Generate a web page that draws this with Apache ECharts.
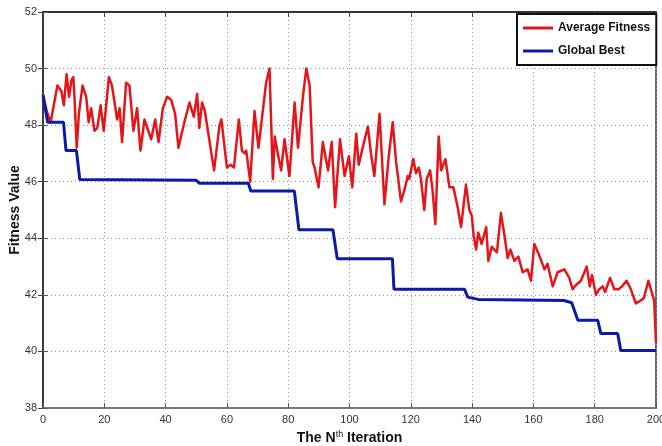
<!DOCTYPE html>
<html>
<head>
<meta charset="utf-8">
<script src="https://cdn.jsdelivr.net/npm/echarts@6/dist/echarts.min.js"></script>
<style>
html,body{margin:0;padding:0;background:#fff;}
#main{width:662px;height:446px;}
</style>
</head>
<body>
<div id="main"></div>
<script>
// Average Fitness (iteration, value)
var avgX = [0,1.2,2.5,4.7,6,6.8,7.7,8.5,9.3,9.9,10.3,11,11.7,12.9,14.1,14.9,15.7,16.8,17.7,18.8,19.8,21.5,22.5,24.2,25,25.8,27.1,28.2,29.5,30.7,31.8,33.1,35.3,36.6,37.7,39.1,40.5,41.8,43.1,44.2,46.1,47.8,49.2,50.3,51,51.9,52.8,53.8,55.8,57.6,58.2,60,61.2,62.3,63.9,64.9,65.8,66.3,67.6,69,70.3,72.8,73.9,75,75.6,76.6,77.7,78.8,80.4,82.1,83.2,84.8,85.9,87,88,88.6,89.9,91.3,93,94.2,95.3,96.9,98.4,99.8,100.9,102.2,103,104.3,106,107,108.1,109.8,110.3,111.4,112.8,114.1,115.2,116.8,117.9,119,119.5,120.8,121.7,122.6,123.3,124.4,125.2,126.3,127.1,128,129.1,129.9,131.3,132.6,133.9,135.3,136.4,138,139.1,139.9,140.5,141.3,142,143.1,144.6,145.3,146.4,148.1,149.4,150.7,151.6,152.5,153.8,155.1,156.5,158.1,159.2,160.3,161.9,163.6,164.6,166.3,167.9,170.1,171.7,172.8,173.9,175.5,177.4,178.4,179.1,180.4,181.5,182.6,183.4,185,186.4,187.8,188.9,190.4,191.8,193.4,195,196.1,197.5,198.6,199.4,200];
var avgY = [49.1,48.5,48.1,49.4,49.2,48.7,49.8,49.0,49.6,49.7,48.9,47.2,48.4,49.4,49.0,48.1,48.6,47.8,47.9,48.7,47.8,49.7,49.4,48.2,48.6,47.4,49.5,49.4,47.8,48.6,47.1,48.2,47.5,48.2,47.4,48.6,49.0,48.9,48.4,47.2,48.1,48.8,48.3,49.1,47.9,48.8,48.5,47.8,46.4,48.0,48.2,46.5,46.6,46.5,48.2,47.1,47.0,47.1,46.0,48.5,47.2,49.5,50.0,46.1,47.6,47.0,46.4,47.5,46.2,48.8,47.2,49.0,50.0,49.4,46.7,46.5,45.8,47.4,46.4,47.4,45.1,47.5,46.2,46.9,45.8,47.7,46.6,47.2,47.95,47.0,46.2,48.4,48.4,45.2,46.9,48.1,46.7,45.3,45.7,46.2,46.1,46.8,46.3,46.5,46.1,45.0,46.1,46.4,45.7,44.5,47.6,46.4,46.8,45.8,45.8,45.1,44.4,45.9,45.0,44.8,44.1,43.6,44.2,43.8,44.4,43.2,43.7,43.5,44.9,44.0,43.3,43.6,43.2,43.35,42.8,42.9,42.5,43.8,43.4,42.9,43.1,42.3,42.8,42.9,42.6,42.2,42.35,42.5,43.0,42.3,42.7,42.0,42.2,42.3,42.1,42.6,42.2,42.2,42.3,42.5,42.2,41.7,41.8,41.9,42.5,42.1,41.8,40.3];
// Global Best (iteration, value)
var bestX = [0,1.5,6.7,7.5,10.9,12,50,51,67,67.8,82,83.5,94.6,96,114,114.5,137.5,138.6,142,170,172.5,174.5,181,182,187.5,188.5,200];
var bestY = [49.07,48.1,48.1,47.1,47.1,46.08,46.05,45.95,45.95,45.67,45.67,44.3,44.3,43.28,43.28,42.2,42.2,41.92,41.84,41.8,41.72,41.1,41.1,40.63,40.63,40.03,40.03];
var xTicks = [0,20,40,60,80,100,120,140,160,180,200];
var yTicks = [38,40,42,44,46,48,50,52];

function pairs(xs, ys){ var out=[]; for(var i=0;i<xs.length;i++){ out.push([xs[i], ys[i]]); } return out; }

var tickFont = "'Liberation Sans Narrow','Liberation Sans',Arial,sans-serif";
var chart = echarts.init(document.getElementById('main'), null, {renderer:'canvas'});
chart.setOption({
  animation:false,
  backgroundColor:'#fff',
  grid:{left:43,right:6,top:12,bottom:38,containLabel:false,outerBoundsMode:'none',show:true,borderColor:'#333',borderWidth:1.5,backgroundColor:'#fff'},
  legend:{
    orient:'vertical', left:517, top:14,
    backgroundColor:'#fff', borderColor:'#111', borderWidth:2,
    padding:[8,6,8,6], itemGap:11, itemWidth:30, itemHeight:3,
    icon:'rect',
    textStyle:{fontFamily:'Arial,Liberation Sans,sans-serif',fontWeight:'bold',fontSize:12,color:'#111'},
    data:['Average Fitness','Global Best']
  },
  xAxis:[{
    type:'value', min:xTicks[0], max:xTicks[xTicks.length-1], interval:20,
    name:'{a|The N}{s|th}{a| Iteration}', nameLocation:'middle', nameGap:22, nameMoveOverlap:false,
    nameTextStyle:{rich:{
      a:{fontFamily:'Arial,Liberation Sans,sans-serif',fontWeight:'bold',fontSize:14,color:'#111',lineHeight:16},
      s:{fontFamily:'Arial,Liberation Sans,sans-serif',fontSize:9,color:'#111',verticalAlign:'top',lineHeight:16,padding:[0,0,6,0]}
    }},
    axisLine:{show:true,lineStyle:{color:'#777',width:2}},
    axisTick:{show:true,inside:true,length:5,lineStyle:{color:'#555'}},
    axisLabel:{fontFamily:tickFont,fontSize:11,color:'#333',margin:6},
    splitLine:{show:true,lineStyle:{color:'#999',type:[1,3],width:1}}
  },{
    type:'value', position:'top', min:0, max:200, interval:20,
    axisLine:{show:true,lineStyle:{color:'#222',width:1.5}},
    axisTick:{show:true,inside:true,length:5,lineStyle:{color:'#444'}},
    axisLabel:{show:false}, splitLine:{show:false}
  }],
  yAxis:[{
    type:'value', min:yTicks[0], max:yTicks[yTicks.length-1], interval:2,
    name:'Fitness Value', nameLocation:'middle', nameGap:21, nameMoveOverlap:false,
    nameTextStyle:{fontFamily:'Arial,Liberation Sans,sans-serif',fontWeight:'bold',fontSize:14,color:'#111'},
    axisLine:{show:true,lineStyle:{color:'#888',width:2}},
    axisTick:{show:true,inside:true,length:5,lineStyle:{color:'#555'}},
    axisLabel:{fontFamily:tickFont,fontSize:11,color:'#333',margin:6},
    splitLine:{show:true,lineStyle:{color:'#999',type:[1,3],width:1}}
  },{
    type:'value', position:'right', min:38, max:52, interval:2,
    axisLine:{show:true,lineStyle:{color:'#222',width:1.5}},
    axisTick:{show:true,inside:true,length:5,lineStyle:{color:'#444'}},
    axisLabel:{show:false}, splitLine:{show:false}
  }],
  series:[{
    name:'Average Fitness', type:'line', data:pairs(avgX,avgY),
    showSymbol:false, symbol:'none',
    itemStyle:{color:'#e3161b'},
    lineStyle:{color:'#e3161b',width:2.5,join:'round'}
  },{
    name:'Global Best', type:'line', data:pairs(bestX,bestY),
    showSymbol:false, symbol:'none',
    itemStyle:{color:'#0b1ba6'},
    lineStyle:{color:'#0b1ba6',width:3}
  }]
});
</script>
</body>
</html>
